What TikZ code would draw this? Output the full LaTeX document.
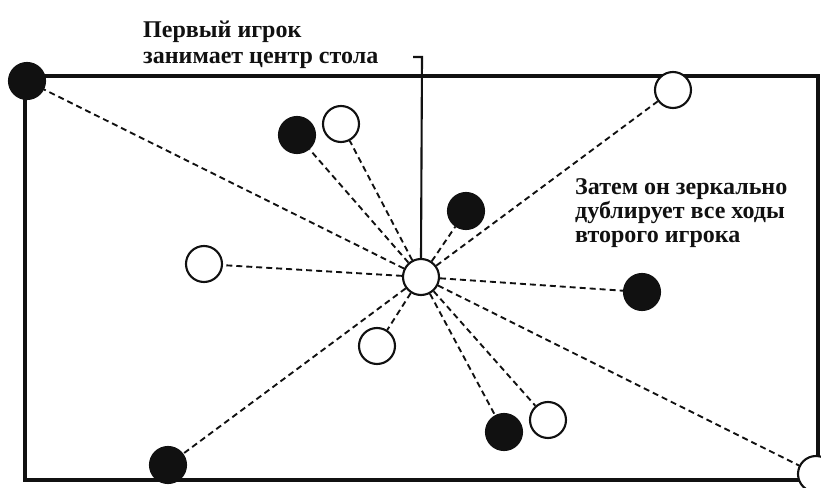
\documentclass[tikz,border=0pt]{standalone}
\usepackage{fontspec}
\setmainfont{Liberation Serif}
\usepackage{xcolor}
\definecolor{ink}{HTML}{111111}

\begin{document}
\begin{tikzpicture}[x=0.3mm, y=-0.3mm,
        coinB/.style={circle, draw=ink, fill=ink, line width=1.8pt, minimum size=10.8mm, inner sep=0pt},
        coinW/.style={circle, draw=ink, fill=white, line width=1.8pt, minimum size=10.8mm, inner sep=0pt},
        mirror/.style={draw=ink, line width=1.6pt, dash pattern=on 1.8mm off 1.2mm},
        note/.style={font=\bfseries\fontsize{20.5}{22}\selectfont, align=left, inner sep=0pt, text=ink}]
      \useasboundingbox (0,0) rectangle (821,487);
      % the table
      \draw[ink, line width=2.6pt] (25,76) rectangle (818,480);
      % first player in the middle
      \node[coinW] (C) at (421,277) {};
      % pairs of moves
      \node[coinB] (B1) at (27,81) {};
      \node[coinW] (W1) at (816,474) {};
      \node[coinW] (W2) at (673,90) {};
      \node[coinB] (B2) at (168,465) {};
      \node[coinB] (B3) at (297,135) {};
      \node[coinB] (B4) at (504,432) {};
      \node[coinW] (W3) at (341,124) {};
      \node[coinW] (W4) at (548,420) {};
      \node[coinB] (B5) at (466,211) {};
      \node[coinW] (W5) at (377,346) {};
      \node[coinW] (W6) at (204,264) {};
      \node[coinB] (B6) at (642,292) {};
      \foreach \c in {B1,W1,W2,B2,B3,B4,W3,W4,B5,W5,W6,B6}
        \draw[mirror] (C) -- (\c);
      % labels
      \node[note, anchor=north west] (T1) at (143,21) {Первый игрок\\занимает центр стола};
      \coordinate (K0) at (413,57);
      \coordinate (K) at (422,57);
      \draw[ink, line width=1.8pt] (K0) -- (K) -- (C.north);
      \node[note, anchor=north west, font=\bfseries\fontsize{20.5}{20.5}\selectfont] (T2) at (575,178)
            {Затем он зеркально\\дублирует все ходы\\второго игрока};
    \end{tikzpicture}
\end{document}
